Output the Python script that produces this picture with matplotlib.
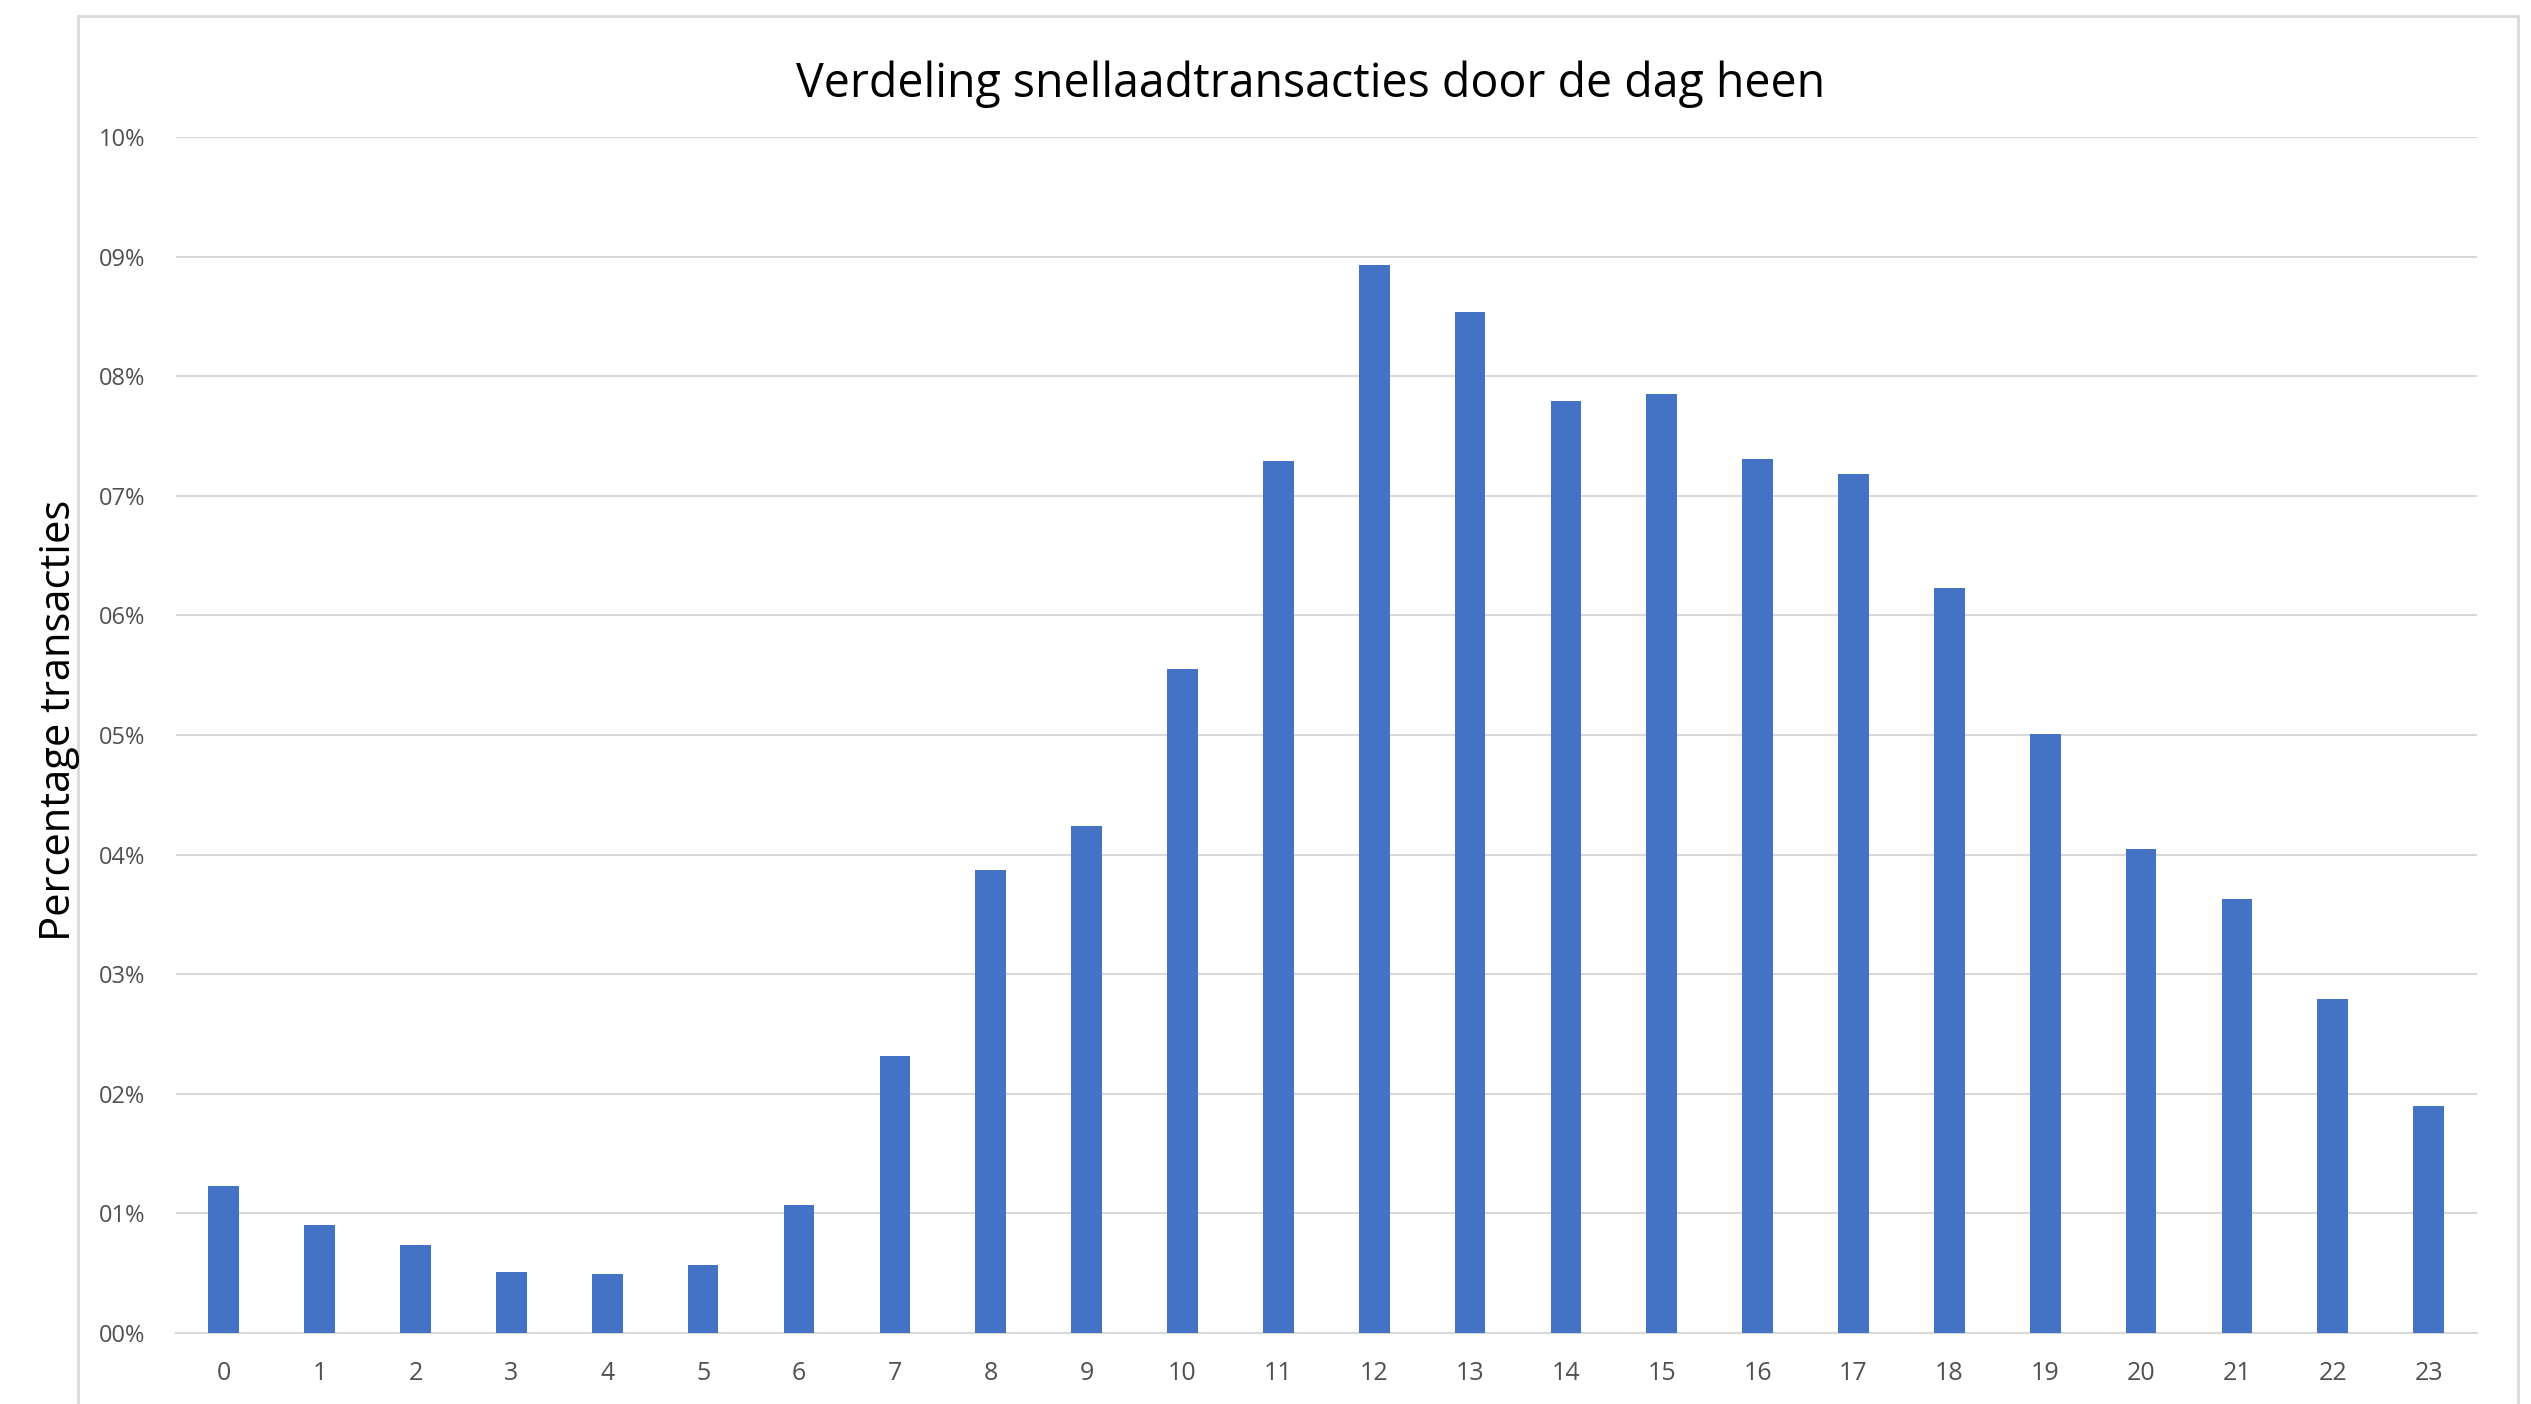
import numpy as np
import matplotlib.pyplot as plt
from matplotlib.patches import Rectangle

# uur van de dag en aandeel transacties (in %)
hours = list(range(24))
share = [1.23, 0.90, 0.74, 0.51, 0.49, 0.57, 1.07, 2.32, 3.87, 4.24, 5.55, 7.29,
         8.93, 8.54, 7.79, 7.85, 7.31, 7.18, 6.23, 5.01, 4.05, 3.63, 2.79, 1.90]
ytick_vals = list(range(11))
ytick_labels = ["%02d%%" % v for v in ytick_vals]

fig = plt.figure(figsize=(25.31, 14.04), dpi=100)
ax = fig.add_axes([0.0695, 0.0505, 0.9090, 0.852])

ax.bar(hours, share, width=0.32, color="#4472C4", zorder=3)

ax.set_xlim(-0.5, 23.5)
ax.set_ylim(0, 10)
ax.set_xticks(hours)
ax.set_xticklabels([str(h) for h in hours], fontsize=18, color="#505050", family="Open Sans")
ax.set_yticks(ytick_vals)
ax.set_yticklabels(ytick_labels, fontsize=17, color="#505050", family="Open Sans")
ax.tick_params(axis="both", length=0)
ax.tick_params(axis="y", pad=22)
ax.tick_params(axis="x", pad=20)

ax.grid(axis="y", color="#d9d9d9", linewidth=1.5, zorder=0)
for s in ["top", "right", "left"]:
    ax.spines[s].set_visible(False)
ax.spines["bottom"].set_color("#d9d9d9")
ax.spines["bottom"].set_linewidth(1.5)

fig.text(0.518, 0.940, "Verdeling snellaadtransacties door de dag heen",
         ha="center", va="center", fontsize=33.5, family="Open Sans", color="black")
fig.text(0.0235, 0.487, "Percentage transacties", rotation=90,
         ha="center", va="center", fontsize=30, family="Open Sans", color="black")

# kader rond de grafiek
fig.patches.append(Rectangle((0.0307, -0.02), 0.964, 1.0086, transform=fig.transFigure,
                             fill=False, edgecolor="#d9d9d9", linewidth=2))

fig.savefig("out.png", dpi=100)
